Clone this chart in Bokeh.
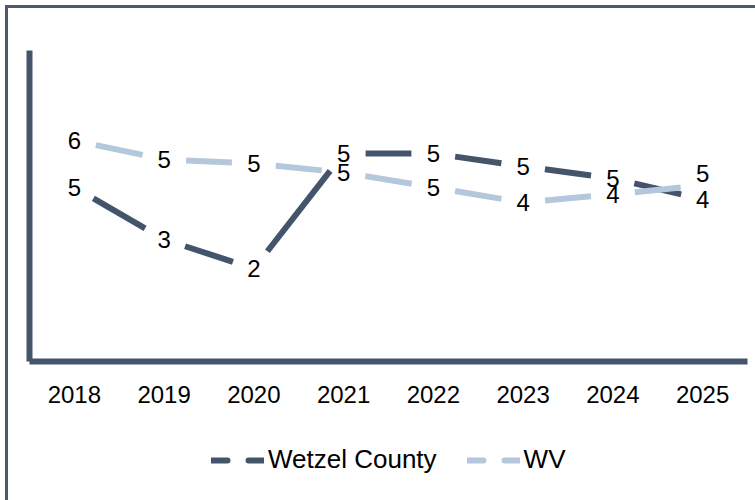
import math
from bokeh.plotting import figure
from bokeh.layouts import column
from bokeh.models import Range1d, FixedTicker, Legend, LegendItem, ColumnDataSource
from bokeh.embed import file_html
from bokeh.resources import INLINE
from bokeh.core.properties import value

# ---- data ----
years = ["2018", "2019", "2020", "2021", "2022", "2023", "2024", "2025"]
wetzel = [4.48, 3.14, 2.39, 5.35, 5.35, 5.02, 4.71, 4.17]
wv = [5.68, 5.20, 5.09, 4.86, 4.48, 4.09, 4.30, 4.53]
wetzel_labels = ["5", "3", "2", "5", "5", "5", "5", "4"]
wv_labels = ["6", "5", "5", "5", "5", "4", "4", "5"]
series_names = ["Wetzel County", "WV"]

# ---- style ----
DARK = "#44546a"
LIGHT = "#b4c7dc"
FONT = "Liberation Sans"
W = 747
H_MAIN, H_LEG = 412, 80
ML, MR, MT, MB = 21, 8, 42, 59
FW = W - ML - MR
FH = H_MAIN - MT - MB
X_LO, X_HI = -0.5, len(years) - 0.5
Y_LO, Y_HI = 0, 8
PX_X = FW / (X_HI - X_LO)
PX_Y = FH / (Y_HI - Y_LO)
GAP = 22  # px left open at each point (label area)


def dash_segments(vals):
    d = dict(x0=[], y0=[], x1=[], y1=[])
    for i in range(len(vals) - 1):
        dv = vals[i + 1] - vals[i]
        f = GAP / math.hypot(PX_X, dv * PX_Y)
        d["x0"].append(i + f)
        d["x1"].append(i + 1 - f)
        d["y0"].append(vals[i] + f * dv)
        d["y1"].append(vals[i + 1] - f * dv)
    return ColumnDataSource(d)


p = figure(width=W, height=H_MAIN, x_range=Range1d(X_LO, X_HI), y_range=Range1d(Y_LO, Y_HI),
           output_backend="svg", toolbar_location=None,
           min_border_left=ML, min_border_right=MR, min_border_top=MT, min_border_bottom=MB)
p.outline_line_color = None
p.grid.visible = False
p.background_fill_color = "white"
p.border_fill_color = "white"

xa = p.xaxis[0]
xa.ticker = FixedTicker(ticks=list(range(len(years))))
xa.major_label_overrides = {i: y for i, y in enumerate(years)}
xa.axis_line_width = 6
xa.axis_line_color = DARK
xa.major_tick_line_color = None
xa.minor_tick_line_color = None
xa.major_label_text_font = FONT
xa.major_label_text_font_size = "24px"
xa.major_label_text_color = "#000000"
xa.major_label_standoff = 18

ya = p.yaxis[0]
ya.ticker = FixedTicker(ticks=[])
ya.axis_line_width = 6
ya.axis_line_color = DARK
ya.major_tick_line_color = None
ya.minor_tick_line_color = None
ya.major_label_text_font_size = "0px"

xs = list(range(len(years)))
p.segment(x0="x0", y0="y0", x1="x1", y1="y1", source=dash_segments(wetzel),
          line_color=DARK, line_width=6, line_cap="butt")
p.segment(x0="x0", y0="y0", x1="x1", y1="y1", source=dash_segments(wv),
          line_color=LIGHT, line_width=6, line_cap="butt")

p.text(x=xs, y=wetzel, text=wetzel_labels, text_align="center", text_baseline="middle",
       text_font=value(FONT), text_font_size="24px", text_color="#000000")
wv_dy = [0] * (len(years) - 1) + [-12]
p.text(x=xs, y=wv, text=wv_labels, text_align="center", text_baseline="middle",
       y_offset=wv_dy,
       text_font=value(FONT), text_font_size="24px", text_color="#000000")

# ---- legend row (own small figure so it is not clipped) ----
q = figure(width=W, height=H_LEG, x_range=Range1d(0, 1), y_range=Range1d(0, 1),
           output_backend="svg", toolbar_location=None,
           min_border_left=0, min_border_right=0, min_border_top=0, min_border_bottom=0)
q.axis.visible = False
q.grid.visible = False
q.outline_line_color = None
q.background_fill_color = "white"
q.border_fill_color = "white"
nan = float("nan")
r1 = q.line(x=[nan], y=[nan], line_color=DARK, line_width=6, line_dash="16 21", line_cap="round")
r2 = q.line(x=[nan], y=[nan], line_color=LIGHT, line_width=6, line_dash="16 21", line_cap="round")
legend = Legend(items=[LegendItem(label=series_names[0], renderers=[r1]),
                       LegendItem(label=series_names[1], renderers=[r2])],
                orientation="horizontal", location=(182, 25),
                glyph_width=53, glyph_height=28, label_standoff=4, spacing=30,
                padding=0, margin=0, border_line_color=None, background_fill_alpha=0,
                label_text_font=FONT, label_text_font_size="26px", label_text_color="#000000")
q.add_layout(legend, "center")

layout = column(p, q, spacing=0,
                styles={"border-left": "3px solid #4a5a6b", "border-top": "3px solid #4a5a6b",
                        "margin-left": "5px", "margin-top": "5px"})

open("out.html", "w").write(file_html(layout, INLINE))
